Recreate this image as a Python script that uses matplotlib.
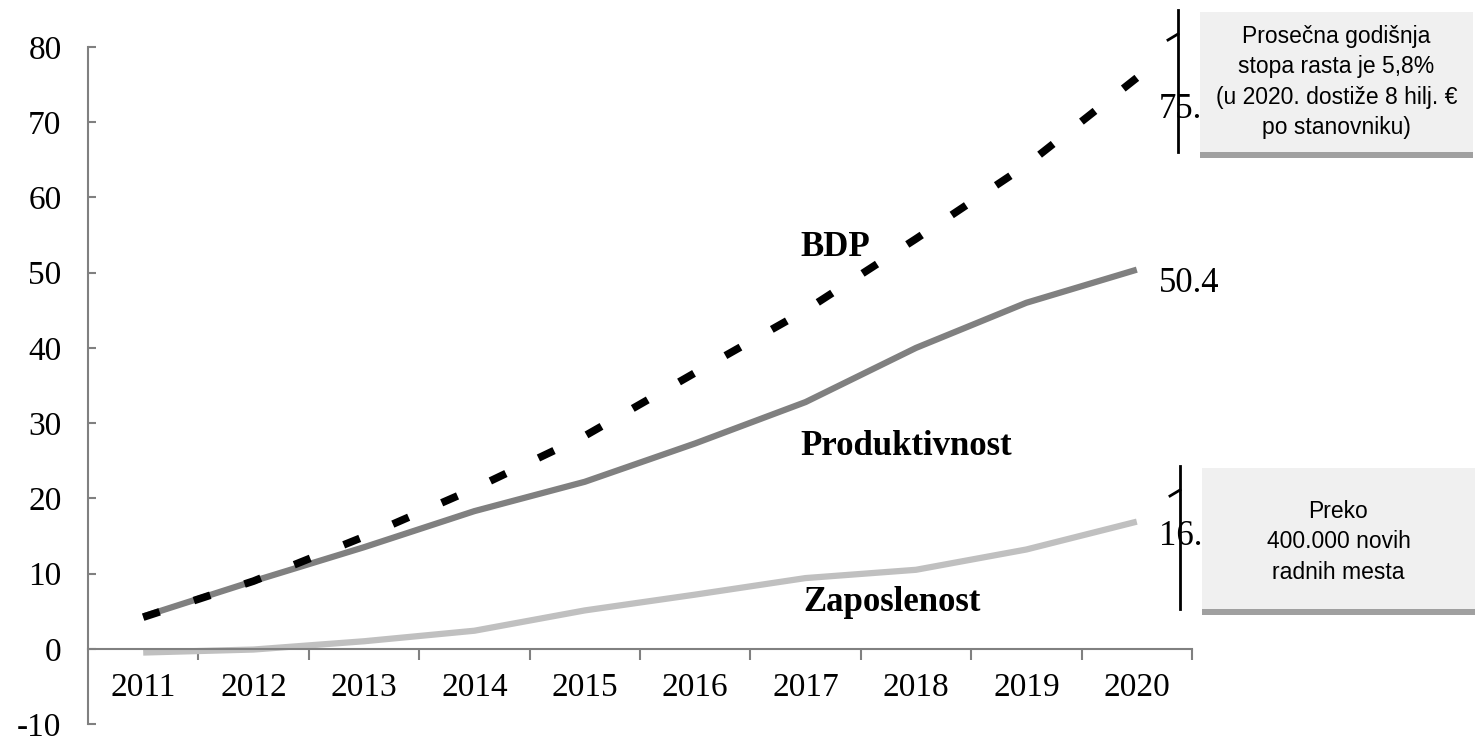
import numpy as np
import matplotlib.pyplot as plt
from matplotlib.patches import Rectangle
from matplotlib.lines import Line2D

years = ['2011', '2012', '2013', '2014', '2015', '2016', '2017', '2018', '2019', '2020']
bdp = [4.2, 9.0, 14.9, 21.3, 28.3, 36.7, 45.0, 54.5, 64.3, 75.9]
produktivnost = [4.3, 9.0, 13.5, 18.3, 22.2, 27.3, 32.8, 40.0, 46.0, 50.4]
zaposlenost = [-0.5, -0.1, 1.0, 2.4, 5.1, 7.2, 9.4, 10.5, 13.2, 16.9]

box_top_lines = ['Prosečna godišnja', 'stopa rasta je 5,8%',
                 '(u 2020. dostiže 8 hilj. €', 'po stanovniku)']
box_bottom_lines = ['Preko', '400.000 novih', 'radnih mesta']

W, H = 1476, 740
SERIF = 'Liberation Serif'
SANS = 'Liberation Sans'
plt.rcParams['font.family'] = [SERIF, 'DejaVu Serif']
plt.rcParams['axes.unicode_minus'] = False


def px(x, y):
    # pixel position (from top-left) -> figure fraction
    return x / W, 1 - y / H


fig = plt.figure(figsize=(W / 100, H / 100), dpi=100)
ax = fig.add_axes([88 / W, 16 / H, (1192 - 88) / W, (724 - 47) / H])

x = list(range(len(years)))
ax.set_xlim(-0.5, len(years) - 0.5)
ax.set_ylim(-10, 80)

ax.plot(x, zaposlenost, color='#C0C0C0', lw=4.5, solid_capstyle='butt', zorder=2)
ax.plot(x, produktivnost, color='#808080', lw=4.5, solid_capstyle='butt', zorder=3)

# stretch the dash pattern a bit so the dashed line starts and ends on a dash
lw = 5.5
d, g = 2.3, 4.8
pts = ax.transData.transform(np.column_stack([x, bdp]))
length = np.hypot(*np.diff(pts, axis=0).T).sum() * 72 / fig.dpi / lw
n = round((length - d) / (d + g))
s = length / (n * (d + g) + d)
ax.plot(x, bdp, color='black', lw=lw, dashes=(d * s, g * s),
        dash_capstyle='butt', zorder=4)

ax.set_yticks(range(-10, 81, 10))

# category boundaries as major ticks, labels on minor ticks
ax.set_xticks([i + 0.5 for i in x], labels=[])
ax.set_xticks(x, labels=years, minor=True)
ax.tick_params(axis='x', which='major', direction='out', length=8,
               width=1.5, color='#808080')
ax.tick_params(axis='x', which='minor', length=0, pad=17, labelsize=24)
ax.tick_params(axis='y', direction='in', length=6, width=1.5,
               color='#808080', pad=19, labelsize=24)

ax.spines['top'].set_visible(False)
ax.spines['right'].set_visible(False)
ax.spines['bottom'].set_position(('data', 0))
for sp in ['left', 'bottom']:
    ax.spines[sp].set_color('#808080')
    ax.spines[sp].set_linewidth(1.5)

# series names
ax.text(6.27, 53.4, 'BDP', fontsize=25, fontweight='bold',
        ha='center', va='center')
ax.text(6.91, 26.9, 'Produktivnost', fontsize=25, fontweight='bold',
        ha='center', va='center')
ax.text(6.78, 6.1, 'Zaposlenost', fontsize=25, fontweight='bold',
        ha='center', va='center')

# end values
for vals, dy in [(bdp, -23), (produktivnost, -10), (zaposlenost, -11)]:
    ax.annotate(f'{vals[-1]:.1f}', (x[-1], vals[-1]), xytext=(16, dy),
                textcoords='offset points', fontsize=25,
                ha='left', va='center', annotation_clip=False, zorder=5)


def side_box(x0, y0, x1, y1, lines, ty):
    # bracket line with small flag
    fig.add_artist(Line2D(*zip(px(x0 - 22, y0 - 2), px(x0 - 22, y1)),
                          color='black', lw=2, zorder=6))
    fig.add_artist(Line2D(*zip(px(x0 - 32, y0 + 28), px(x0 - 22, y0 + 22)),
                          color='black', lw=2, zorder=6))
    bx, by = px(x0, y1)
    fig.add_artist(Rectangle((bx, by), (x1 - x0) / W, (y1 - y0) / H,
                             transform=fig.transFigure, facecolor='#F0F0F0',
                             edgecolor='none', zorder=7))
    bx, by = px(x0, y1 + 6)
    fig.add_artist(Rectangle((bx, by), (x1 - x0) / W, 6 / H,
                             transform=fig.transFigure, facecolor='#A0A0A0',
                             edgecolor='none', zorder=7))
    tx, tyf = px((x0 + x1) / 2, ty)
    fig.text(tx, tyf, '\n'.join(lines), fontsize=16.5, family=[SANS, 'DejaVu Sans'],
             ha='center', va='center', linespacing=1.4, zorder=8)


side_box(1200, 12, 1473, 152, box_top_lines, 82)
side_box(1202, 468, 1475, 609, box_bottom_lines, 542)

fig.savefig('out.png', dpi=100)
